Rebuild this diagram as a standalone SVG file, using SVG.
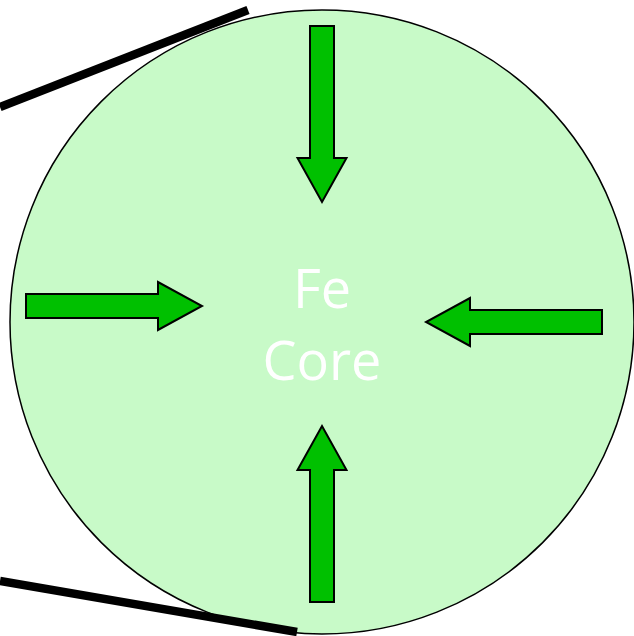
<svg xmlns="http://www.w3.org/2000/svg" width="634" height="636" viewBox="0 0 634 636">
<style>
.arrow{fill:#00c000;stroke:#000;stroke-width:2;stroke-linejoin:miter}
.lbl{font-family:"Open Sans","Liberation Sans",sans-serif;font-size:54px;fill:#fff;text-anchor:middle}
.wire{stroke:#000;stroke-width:8.5;stroke-linecap:butt}
</style>
<rect width="634" height="636" fill="#fff"/>
<g id="core">
<circle cx="322" cy="322" r="312" fill="#c8fac8" stroke="#000" stroke-width="1.5"/>
<text class="lbl" x="322" y="308">Fe</text>
<text class="lbl" x="322" y="380">Core</text>
</g>
<g id="arrow-down"><polygon class="arrow" points="310,26 334,26 334,158 346.5,158 322,202 297.5,158 310,158"/></g>
<g id="arrow-up"><polygon class="arrow" points="310,602 334,602 334,470 346.5,470 322,426 297.5,470 310,470"/></g>
<g id="arrow-right"><polygon class="arrow" points="26,294 158,294 158,282 202,306 158,330 158,318 26,318"/></g>
<g id="arrow-left"><polygon class="arrow" points="602,310 470,310 470,298 426,322 470,346 470,334 602,334"/></g>
<g id="connectors">
<line class="wire" x1="0" y1="107" x2="248" y2="10"/>
<line class="wire" x1="0" y1="581" x2="297" y2="632"/>
</g>
</svg>
